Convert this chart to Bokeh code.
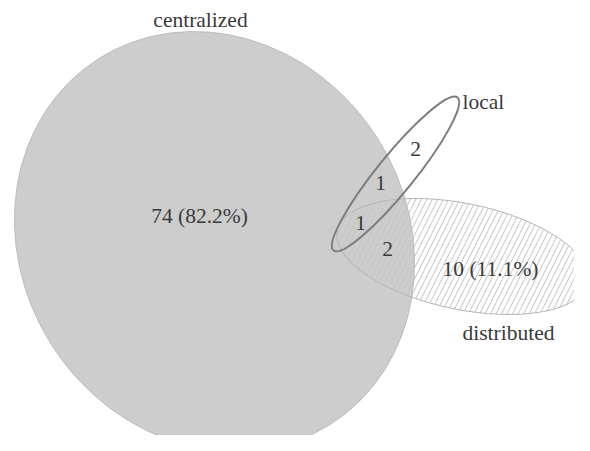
from bokeh.plotting import figure
from bokeh.models import Range1d, ColumnDataSource
from bokeh.core.properties import value
from bokeh.embed import file_html
from bokeh.resources import INLINE

# ---- data ----
set_names = ["centralized", "local", "distributed"]
# exclusive region counts
only_centralized = 74
only_distributed = 10
only_local = 2
central_local = 1
central_local_distributed = 1
central_distributed = 2
total = only_centralized + only_distributed + only_local + central_local + central_local_distributed + central_distributed

H = 451  # reference height in px (y flipped to data-up coordinates)

def Y(py):
    return H - py

p = figure(width=574, height=435, output_backend="svg", toolbar_location=None,
           x_range=Range1d(0, 574), y_range=Range1d(H - 435, H), min_border=0,
           background_fill_color="white", border_fill_color="white")
p.axis.visible = False
p.grid.visible = False
p.outline_line_color = None

# centralized
p.ellipse(x=[214], y=[Y(241)], width=[433], height=[386], angle=[-57.5], angle_units="deg",
          fill_color="#cdcdcd", line_color="#bcbcbc", line_width=1)
# distributed (hatched)
p.ellipse(x=[462], y=[Y(256)], width=[256], height=[106], angle=[-11.7], angle_units="deg",
          fill_alpha=0, line_color="#b4b4b4", line_width=1,
          hatch_pattern="/", hatch_color="#c4c4c4", hatch_scale=11, hatch_weight=1)
# local (outline)
p.ellipse(x=[395], y=[Y(173.5)], width=[197], height=[37], angle=[51], angle_units="deg",
          fill_alpha=0, line_color="#7c7c7c", line_width=2)

font = value("Liberation Serif")
fs = value("21.5px")
col = "#3a3a3a"

# set labels
lab = ColumnDataSource(dict(x=[200, 462, 508], y=[Y(19), Y(101), Y(332)], t=set_names,
                            a=["center", "left", "center"]))
p.text(x="x", y="y", text="t", text_align="a", text_baseline="middle",
       text_font=font, text_font_size=fs, text_color=col, source=lab)

def pct(n):
    return f"{n} ({100 * n / total:.1f}%)"

reg = ColumnDataSource(dict(
    x=[199, 490, 415, 380, 360, 387],
    y=[Y(215), Y(268), Y(148), Y(182), Y(222), Y(248)],
    t=[pct(only_centralized), pct(only_distributed), str(only_local), str(central_local),
       str(central_local_distributed), str(central_distributed)]))
p.text(x="x", y="y", text="t", text_align="center", text_baseline="middle",
       text_font=font, text_font_size=fs, text_color=col, source=reg)

open("out.html", "w").write(file_html(p, INLINE))
